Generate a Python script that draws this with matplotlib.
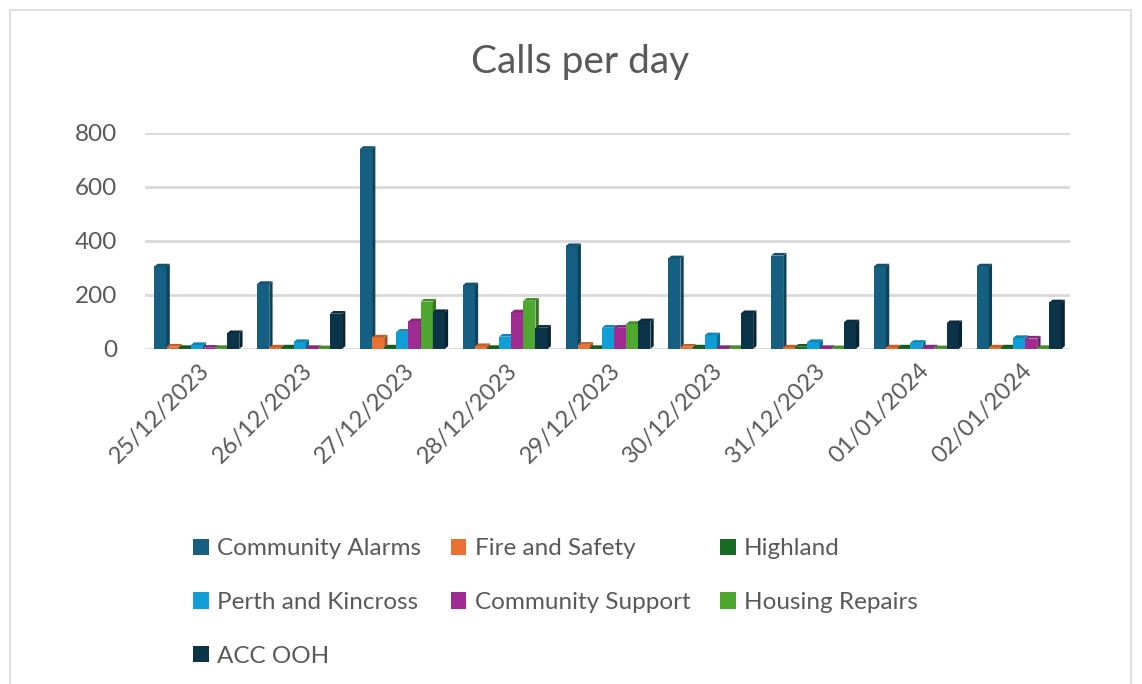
import matplotlib.pyplot as plt
from matplotlib.patches import Polygon, Rectangle
import numpy as np

dates = ['25/12/2023', '26/12/2023', '27/12/2023', '28/12/2023', '29/12/2023',
         '30/12/2023', '31/12/2023', '01/01/2024', '02/01/2024']

community_alarms = [305, 240, 740, 235, 380, 335, 345, 305, 305]
fire_and_safety = [8, 5, 42, 10, 15, 8, 5, 5, 5]
highland = [3, 5, 5, 3, 3, 5, 8, 5, 5]
perth_and_kincross = [14, 25, 63, 45, 78, 50, 25, 22, 40]
community_support = [4, 3, 102, 135, 78, 3, 3, 5, 38]
housing_repairs = [3, 2, 175, 178, 92, 3, 2, 2, 3]
acc_ooh = [58, 130, 136, 78, 102, 132, 98, 95, 172]

series_names = ['Community Alarms', 'Fire and Safety', 'Highland', 'Perth and Kincross',
                'Community Support', 'Housing Repairs', 'ACC OOH']
series = [community_alarms, fire_and_safety, highland, perth_and_kincross,
          community_support, housing_repairs, acc_ooh]
colors = ['#156082', '#E97132', '#196B24', '#0F9ED5', '#A02B93', '#4EA72E', '#0C3449']


def shade(c, f):
    c = np.array(plt.matplotlib.colors.to_rgb(c))
    return tuple(np.clip(c * f, 0, 1))


plt.rcParams['font.family'] = ['Lato', 'DejaVu Sans']
txt = '#595959'

fig = plt.figure(figsize=(11.42, 6.84), dpi=100)
fig.patches.append(Rectangle((0.009, -0.01), 0.981, 0.996, transform=fig.transFigure,
                             fill=False, edgecolor='#d9d9d9', linewidth=1.2))
ax = fig.add_axes([0.127, 0.490, 0.810, 0.316])

x = np.arange(len(dates))
w = 0.118
dx = 0.032   # 3D depth in category units
dy = 10      # 3D depth in value units
handles = []
for i, (name, vals, col) in enumerate(zip(series_names, series, colors)):
    pos = x + (i - 3) * w - dx / 2
    b = ax.bar(pos, vals, width=w, color=col, label=name, zorder=3)
    handles.append(b)
    for p, v in zip(pos, vals):
        xr = p + w / 2
        xl = p - w / 2
        # side face
        ax.add_patch(Polygon([(xr, 0), (xr, v), (xr + dx, v + dy), (xr + dx, dy)],
                             closed=True, facecolor=shade(col, 0.7), edgecolor='none', zorder=3))
        # top face
        ax.add_patch(Polygon([(xl, v), (xr, v), (xr + dx, v + dy), (xl + dx, v + dy)],
                             closed=True, facecolor=shade(col, 0.85), edgecolor='none', zorder=3))

ax.set_xlim(-0.52, 8.48)
ax.set_ylim(0, 800)
ax.set_yticks([0, 200, 400, 600, 800])
ax.yaxis.grid(True, color='#d9d9d9', linewidth=2)
ax.set_axisbelow(True)
for s in ax.spines.values():
    s.set_visible(False)
ax.tick_params(axis='both', length=0, colors=txt)
ax.tick_params(axis='y', pad=20, labelsize=17.5)
ax.set_xticks(x)
ax.set_xticklabels(dates, rotation=45, ha='right', rotation_mode='anchor', fontsize=17)
ax.tick_params(axis='x', pad=8)

fig.text(0.508, 0.910, 'Calls per day', ha='center', va='center', fontsize=28, color=txt)

# matplotlib fills legend columns first; reorder so entries read row by row
order = [0, 3, 6, 1, 4, 2, 5]
fig.legend(handles=[handles[k] for k in order], labels=[series_names[k] for k in order],
           loc='upper left', bbox_to_anchor=(0.150, 0.245), ncol=3, frameon=False,
           fontsize=17.5, labelcolor=txt, handlelength=0.65, handleheight=0.65,
           handletextpad=0.35, columnspacing=1.2, labelspacing=1.35)

fig.savefig('out.png', dpi=100)
